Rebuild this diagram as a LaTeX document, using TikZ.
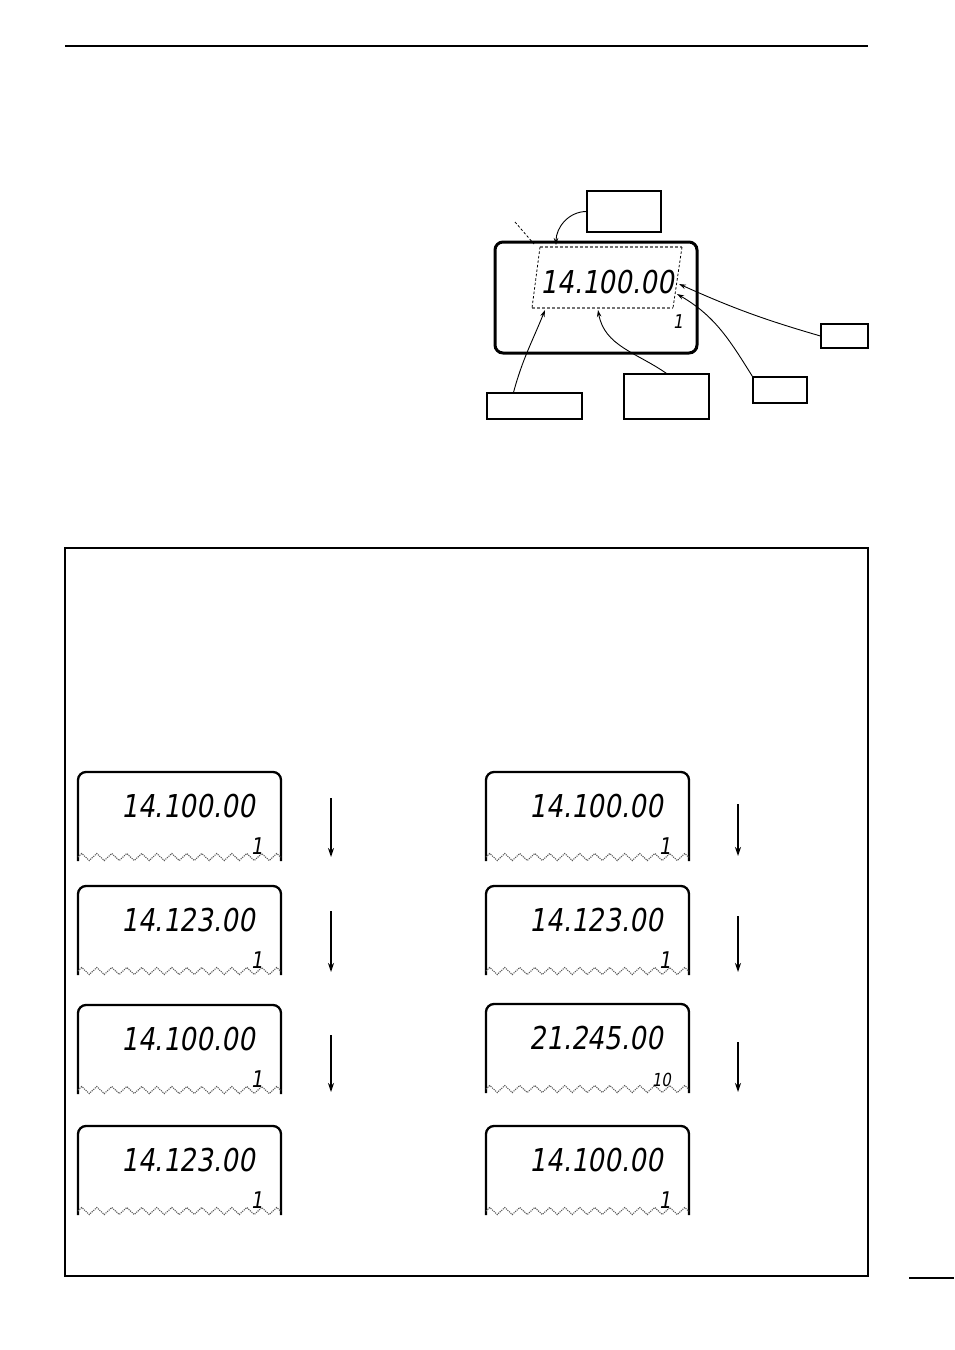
\documentclass[tikz,border=0pt]{standalone}
\usepackage{fontspec}
\newfontfamily\lcd{DejaVu Sans}[FakeStretch=0.83,FakeSlant=0.17]
\usetikzlibrary{arrows.meta,decorations.pathmorphing}
\tikzset{
  freq/.style={font=\lcd\fontsize{31.5}{32}\selectfont, anchor=base east, inner sep=0pt},
  chan/.style={font=\lcd\fontsize{23}{24}\selectfont, anchor=base east, inner sep=0pt},
  chansmall/.style={font=\lcd\fontsize{19}{20}\selectfont, anchor=base east, inner sep=0pt},
  chanten/.style={font=\lcd\fontsize{18}{19}\selectfont, anchor=base east, inner sep=0pt},
  panelline/.style={line width=2.3pt, rounded corners=8pt},
  wavy/.style={black!65, densely dotted, line width=1.1pt, decorate, decoration={zigzag, segment length=15pt, amplitude=3.5pt}},
  callout/.style={draw, line width=1.1pt, inner sep=0pt},
  leader/.style={line width=0.9pt, -{Stealth[length=7pt,width=4.5pt]}},
  stepdown/.style={line width=1.3pt, -{Stealth[length=9pt,width=6pt]}},
  graydash/.style={black!55, line width=1.2pt, dash pattern=on 3pt off 2pt},
  blackdash/.style={black, line width=0.8pt, dash pattern=on 2.5pt off 2pt},
}
\newcommand\lcdpanel[6]{%
  \draw[panelline] (#1,#2+89) -- (#1,#2) -- (#1+203,#2) -- (#1+203,#2+89);
  \draw[wavy] (#1,#2+85) -- (#1+203,#2+85);
  \node[freq] (#3f) at (#1+177,#2+45) {#4};
  \node[#6] (#3c) at (#1+185,#2+82) {#5};
}
\begin{document}
\begin{tikzpicture}[x=1pt,y=-1pt]
\useasboundingbox (0,0) rectangle (954,1350);
% page rules
\coordinate (r1) at (65,46);
\coordinate (r2) at (868,46);
\draw[line width=2.5pt] (r1) -- (r2);
\coordinate (s1) at (909,1278);
\coordinate (s2) at (954,1278);
\draw[line width=1.2pt] (s1) -- (s2);

% ===== top display =====
\node[draw, line width=3pt, rounded corners=8pt, minimum width=202pt, minimum height=111pt, inner sep=0pt] (disp) at (596,297.5) {};
\coordinate (q1) at (540,247);
\coordinate (q2) at (682,247);
\coordinate (q3) at (673,308);
\coordinate (q4) at (532,308);
\draw[graydash] (q1) -- (q2);
\draw[graydash] (q4) -- (q3);
\draw[blackdash] (q1) -- (q4);
\draw[blackdash] (q2) -- (q3);
\coordinate (d1) at (515,222);
\coordinate (d2) at (534,244);
\draw[blackdash] (d1) -- (d2);
\node[freq] (tf) at (674,293) {14.100.00};
\node[chansmall] (tc) at (683,328) {1};

% callout boxes
\node[callout, minimum width=74pt, minimum height=41pt] (bT) at (624,211.5) {};
\node[callout, minimum width=47pt, minimum height=24pt] (bR) at (844.5,336) {};
\node[callout, minimum width=54pt, minimum height=26pt] (bC) at (780,390) {};
\node[callout, minimum width=85pt, minimum height=45pt] (bM) at (666.5,396.5) {};
\node[callout, minimum width=95pt, minimum height=26pt] (bL) at (534.5,406) {};

\coordinate (pT) at (556,245);
\coordinate (pR) at (679,284);
\coordinate (pC) at (677,294);
\coordinate (pM) at (598,310);
\coordinate (pL) at (545,310);
\draw[leader] (bT.west) to[out=180,in=90] (pT);
\draw[leader] (bR.west) to[bend left=4] (pR);
\draw[leader] (bC.north west) to[out=122,in=-30] (pC);
\draw[leader] (bM.north) to[out=145,in=-80] (pM);
\draw[leader] ([xshift=-21pt]bL.north) to[out=75,in=-112] (pL);

% ===== example frame =====
\node[draw, line width=1.2pt, minimum width=803pt, minimum height=728pt, inner sep=0pt] (frame) at (466.5,912) {};

% left column
\lcdpanel{78}{772}{La}{14.100.00}{1}{chan}
\lcdpanel{78}{886}{Lb}{14.123.00}{1}{chan}
\lcdpanel{78}{1005}{Lc}{14.100.00}{1}{chan}
\lcdpanel{78}{1126}{Ld}{14.123.00}{1}{chan}
% right column
\lcdpanel{486}{772}{Ra}{14.100.00}{1}{chan}
\lcdpanel{486}{886}{Rb}{14.123.00}{1}{chan}
\lcdpanel{486}{1004}{Rc}{21.245.00}{10}{chanten}
\lcdpanel{486}{1126}{Rd}{14.100.00}{1}{chan}

% step arrows
\coordinate (a1s) at (331,798);  \coordinate (a1e) at (331,857);
\coordinate (a2s) at (331,911);  \coordinate (a2e) at (331,972);
\coordinate (a3s) at (331,1035); \coordinate (a3e) at (331,1092);
\coordinate (b1s) at (738,804);  \coordinate (b1e) at (738,856);
\coordinate (b2s) at (738,916);  \coordinate (b2e) at (738,972);
\coordinate (b3s) at (738,1042); \coordinate (b3e) at (738,1092);
\foreach \p in {a1,a2,a3,b1,b2,b3} \draw[stepdown] (\p s) -- (\p e);
\end{tikzpicture}
\end{document}
